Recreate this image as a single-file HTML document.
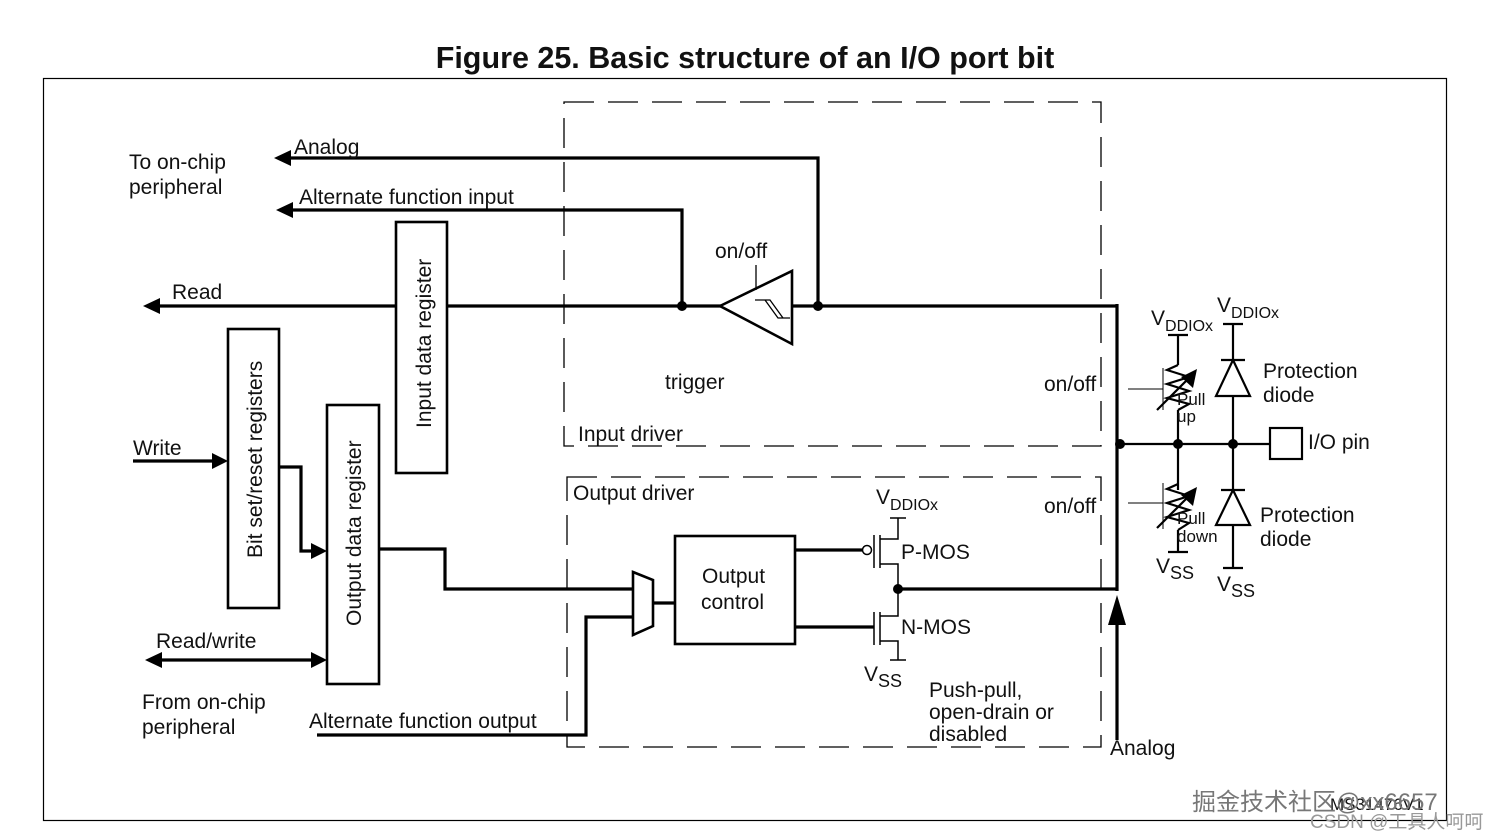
<!DOCTYPE html>
<html><head><style>
html,body{margin:0;padding:0;background:#fff}
svg{display:block}
text{font-family:"Liberation Sans",Arial,sans-serif;font-size:21px;fill:#111}
</style></head><body>
<svg width="1496" height="839" viewBox="0 0 1496 839" xmlns="http://www.w3.org/2000/svg">
<text x="745" y="68" text-anchor="middle" style="font-size:30.5px;font-weight:bold">Figure 25. Basic structure of an I/O port bit</text>
<rect x="43.5" y="78.5" width="1403" height="742" fill="none" stroke="#000" stroke-width="1.2"/>
<g fill="none" stroke="#000" stroke-width="1.3" stroke-dasharray="30,14">
<rect x="564" y="102" width="537" height="344"/>
<rect x="567" y="477" width="534" height="270"/>
</g>
<g stroke="#000" stroke-width="3.2" fill="none">
<path d="M1117,306 H152"/>
<path d="M818,306 V158 H285"/>
<path d="M682,306 V210 H287"/>
<path d="M1117,304 V591"/>
<path d="M133,461 H220"/>
<path d="M279,467 H301 V551 H320"/>
<path d="M154,660 H320"/>
<path d="M379,549 H445 V589 H633"/>
<path d="M317,735 H586 V617 H633"/>
<path d="M653,603 H675"/>
<path d="M795,550 H862"/>
<path d="M795,627 H874"/>
<path d="M898,589 H1117"/>
<path d="M1117,740 V620"/>
</g>
<g fill="#000">
<path d="M143,306 L160,298 L160,314z"/>
<path d="M274,158 L291,150 L291,166z"/>
<path d="M276,210 L293,202 L293,218z"/>
<path d="M228,461 L212,453 L212,469z"/>
<path d="M327,551 L311,543 L311,559z"/>
<path d="M145,660 L162,652 L162,668z"/>
<path d="M327,660 L311,652 L311,668z"/>
<path d="M1117,595 L1108,625 L1126,625z"/>
<circle cx="682" cy="306" r="5"/><circle cx="818" cy="306" r="5"/>
<circle cx="898" cy="589" r="5"/>
<circle cx="1120" cy="444" r="5"/><circle cx="1178" cy="444" r="5"/><circle cx="1233" cy="444" r="5"/>
</g>
<g fill="#fff" stroke="#000" stroke-width="2.6">
<rect x="396" y="222" width="51" height="251"/>
<rect x="228" y="329" width="51" height="279"/>
<rect x="327" y="405" width="52" height="279"/>
<rect x="675" y="536" width="120" height="108"/>
<path d="M633,572 L653,580 L653,626 L633,635z"/>
<path d="M720,306 L792,271 L792,344z"/>
</g>
<g stroke="#000" stroke-width="1.3" fill="none">
<path d="M755,300 H770 L783,318 M765,300 L778,318 H790"/>
<path d="M756,265 V290"/>
</g>
<text transform="translate(431,428) rotate(-90)">Input data register</text>
<text transform="translate(262,558) rotate(-90)">Bit set/reset registers</text>
<text transform="translate(361,626) rotate(-90)">Output data register</text>
<text x="129" y="169">To on-chip</text>
<text x="129" y="194">peripheral</text>
<text x="294" y="154">Analog</text>
<text x="299" y="204">Alternate function input</text>
<text x="172" y="299">Read</text>
<text x="133" y="455">Write</text>
<text x="156" y="648">Read/write</text>
<text x="142" y="709">From on-chip</text>
<text x="142" y="734">peripheral</text>
<text x="309" y="728">Alternate function output</text>
<text x="715" y="258">on/off</text>
<text x="665" y="389">trigger</text>
<text x="578" y="441">Input driver</text>
<text x="573" y="500">Output driver</text>
<text x="1044" y="391">on/off</text>
<text x="1044" y="513">on/off</text>
<text x="702" y="583">Output</text>
<text x="701" y="609">control</text>
<text x="929" y="697">Push-pull,</text>
<text x="929" y="719">open-drain or</text>
<text x="929" y="741">disabled</text>
<text x="1110" y="755">Analog</text>
<g stroke="#000" stroke-width="1.5" fill="none">
<circle cx="867" cy="550" r="4.5"/>
<path d="M874,535 V568 M874,612 V645"/>
<path d="M880,535 V568 M880,612 V645"/>
<path d="M880,539 H898 V518 M890,518 H906"/>
<path d="M880,564 H898 V616 H880"/>
<path d="M880,641 H898 V660 M890,660 H906"/>
</g>
<text x="876" y="504">V<tspan dy="6" style="font-size:16px">DDIOx</tspan></text>
<text x="901" y="559">P-MOS</text>
<text x="901" y="634">N-MOS</text>
<text x="864" y="681">V<tspan dy="6" style="font-size:18px">SS</tspan></text>
<g stroke="#000" stroke-width="2.2" fill="none">
<path d="M1117,444 H1270"/>
<rect x="1270" y="428" width="32" height="31"/>
<path d="M1178,335 V365 M1178,410 V490 M1178,530 V552"/>
<path d="M1168,335 H1188 M1168,552 H1188"/>
<path d="M1178,365 L1167,370 L1189,377 L1167,384 L1189,391 L1167,398 L1189,404 L1178,410"/>
<path d="M1178,484 L1167,489 L1189,496 L1167,503 L1189,510 L1167,517 L1189,523 L1178,530"/>
<path d="M1157,410 L1192,375 M1157,528 L1192,493"/>
<path d="M1233,324 V568"/>
<path d="M1223,324 H1243 M1223,568 H1243"/>
<path d="M1221,360 H1245 M1221,490 H1245"/>
<path d="M1233,360 L1216,396 H1250z" fill="#fff"/>
<path d="M1233,490 L1216,525 H1250z" fill="#fff"/>
</g>
<g stroke="#000" stroke-width="1" fill="none">
<path d="M1128,389 H1163 M1163,368 V410 M1128,503 H1163 M1163,483 V529"/>
</g>
<g fill="#000"><path d="M1197,369 L1181,377 L1193,388z"/><path d="M1197,487 L1181,495 L1193,506z"/></g>
<text x="1151" y="325">V<tspan dy="6" style="font-size:16px">DDIOx</tspan></text>
<text x="1217" y="312">V<tspan dy="6" style="font-size:16px">DDIOx</tspan></text>
<text x="1177" y="405" style="font-size:17px">Pull</text>
<text x="1177" y="422" style="font-size:17px">up</text>
<text x="1177" y="524" style="font-size:17px">Pull</text>
<text x="1177" y="542" style="font-size:17px">down</text>
<text x="1263" y="378">Protection</text>
<text x="1263" y="402">diode</text>
<text x="1260" y="522">Protection</text>
<text x="1260" y="546">diode</text>
<text x="1308" y="449">I/O pin</text>
<text x="1156" y="573">V<tspan dy="6" style="font-size:18px">SS</tspan></text>
<text x="1217" y="591">V<tspan dy="6" style="font-size:18px">SS</tspan></text>
<text x="1330" y="810" style="font-size:17px">MS31476V1</text>
<text x="1192" y="810" style="font-size:24px;fill:#777;font-family:'Liberation Sans','Noto Sans CJK SC',sans-serif">掘金技术社区@xx6657</text>
<text x="1310" y="828" style="font-size:19px;fill:#999;font-family:'Liberation Sans','Noto Sans CJK SC',sans-serif">CSDN @工具人呵呵</text>
</svg>
</body></html>
